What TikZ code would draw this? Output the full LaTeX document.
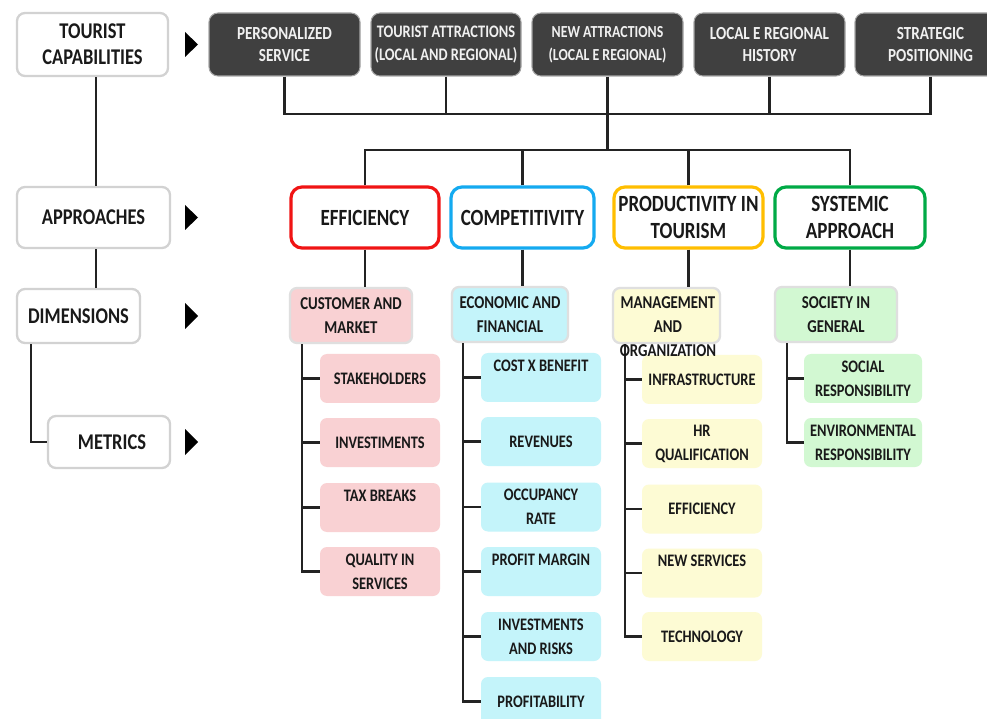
\documentclass[tikz,border=0pt]{standalone}
\usepackage{fontspec}
\setmainfont{Carlito}[FakeStretch=0.82]
\definecolor{darkbox}{RGB}{64,64,64}
\definecolor{pinkf}{RGB}{249,209,211}
\definecolor{cyanf}{RGB}{196,244,250}
\definecolor{yellowf}{RGB}{253,251,212}
\definecolor{greenf}{RGB}{210,248,210}
\definecolor{effred}{RGB}{240,20,20}
\definecolor{compblue}{RGB}{20,170,240}
\definecolor{prodorange}{RGB}{255,190,0}
\definecolor{sysgreen}{RGB}{0,170,70}
\definecolor{txt}{RGB}{25,25,25}
\definecolor{conn}{RGB}{35,35,35}
\tikzset{
  sz/.style 2 args={minimum width=#1*0.02cm, minimum height=#2*0.02cm},
  base/.style={inner sep=0pt, align=center, text=txt},
  leftbox/.style={base, rounded corners=0.16cm, draw=gray!35, line width=1.3pt, fill=white,
     font=\fontsize{12.8}{14.8}\selectfont\bfseries},
  darkb/.style={base, rounded corners=0.18cm, fill=darkbox, draw=gray!70, line width=0.6pt, text=white!94!black,
     font=\fontsize{10.5}{13}\selectfont\bfseries},
  appb/.style={base, rounded corners=0.22cm, fill=white, line width=1.8pt,
     font=\fontsize{13.2}{15.4}\selectfont\bfseries},
  dimb/.style={base, rounded corners=0.14cm, draw=gray!25, line width=1.3pt,
     font=\fontsize{10.3}{13.7}\selectfont\bfseries},
  metb/.style={base, rounded corners=0.14cm, sz={120}{49},
     font=\fontsize{10}{13.7}\selectfont\bfseries},
  conn/.style={draw=conn, line width=1.5pt},
  tri/.style={fill=black},
}
\begin{document}
\begin{tikzpicture}[x=0.02cm,y=-0.02cm]
\useasboundingbox (0,0) rectangle (987,719);
\clip (0,0) rectangle (987,719);
\fill[white] (0,0) rectangle (987,719);

% left column
\node[leftbox, sz={151}{63}] (tc) at (92.5,44.5) {TOURIST\\CAPABILITIES};
\node[leftbox, sz={153}{61}] (app) at (93.5,217.5) {APPROACHES};
\node[leftbox, sz={123}{54}] (dim) at (78.5,316) {DIMENSIONS};
\node[leftbox, sz={122}{52}] (met) at (109,442) {\hspace*{0.12cm}METRICS};

% triangles
\fill[tri] (185,32) -- (198,44.5) -- (185,57) -- cycle;
\fill[tri] (185,205) -- (198,217.5) -- (185,230) -- cycle;
\fill[tri] (185,303) -- (198,316) -- (185,329) -- cycle;
\fill[tri] (185,429) -- (198,442) -- (185,455) -- cycle;

% top dark boxes
\node[darkb, sz={151}{63}] (ps) at (284.5,44.5) {PERSONALIZED\\SERVICE};
\node[darkb, sz={150}{63}, font=\fontsize{10}{13}\selectfont\bfseries] (ta) at (446,44.5) {TOURIST ATTRACTIONS\\(LOCAL AND REGIONAL)};
\node[darkb, sz={151}{63}, font=\fontsize{9.6}{13}\selectfont\bfseries] (na) at (607.5,44.5) {NEW ATTRACTIONS\\(LOCAL E REGIONAL)};
\node[darkb, sz={151}{63}] (hist) at (769.5,44.5) {LOCAL E REGIONAL\\HISTORY};
\node[darkb, sz={151}{63}] (sp) at (930.5,44.5) {STRATEGIC\\POSITIONING};

% approaches
\node[appb, draw=effred, sz={148}{61}] (eff) at (365,217.5) {EFFICIENCY};
\node[appb, draw=compblue, sz={143}{61}] (comp) at (522.5,217.5) {COMPETITIVITY};
\node[appb, draw=prodorange, sz={149}{61}] (prod) at (688.5,217.5) {PRODUCTIVITY IN\\TOURISM};
\node[appb, draw=sysgreen, sz={150}{61}] (sys) at (850,217.5) {SYSTEMIC\\APPROACH};

% dimensions
\node[dimb, fill=pinkf, sz={122}{55}] (dimE) at (351,315.5) {CUSTOMER AND\\MARKET};
\node[dimb, fill=cyanf, sz={116}{55}] (dimC) at (510,314.5) {ECONOMIC AND\\FINANCIAL};
\node[dimb, fill=yellowf, sz={107}{55}] (dimP) at (666.5,315.5) {};
\node[dimb, fill=greenf, sz={122}{55}] (dimS) at (836,314.5) {SOCIETY IN\\GENERAL};

% metrics efficiency
\node[metb, fill=pinkf] (e1) at (380,378.5) {STAKEHOLDERS};
\node[metb, fill=pinkf] (e2) at (380,442.5) {INVESTIMENTS};
\node[metb, fill=pinkf] (e3) at (380,507.5) {TAX BREAKS\\\mbox{}};
\node[metb, fill=pinkf] (e4) at (380,571.5) {QUALITY IN\\SERVICES};

% metrics competitivity
\node[metb, fill=cyanf] (c1) at (541,377.5) {COST X BENEFIT\\\mbox{}};
\node[metb, fill=cyanf] (c2) at (541,441.5) {REVENUES};
\node[metb, fill=cyanf] (c3) at (541,507) {OCCUPANCY\\RATE};
\node[metb, fill=cyanf] (c4) at (541,571.5) {PROFIT MARGIN\\\mbox{}};
\node[metb, fill=cyanf] (c5) at (541,636.5) {INVESTMENTS\\AND RISKS};
\node[metb, fill=cyanf] (c6) at (541,701.5) {PROFITABILITY};

% metrics productivity
\node[metb, fill=yellowf] (p1) at (702,379.5) {INFRASTRUCTURE};
\node[metb, fill=yellowf] (p2) at (702,443.5) {HR\\QUALIFICATION};
\node[metb, fill=yellowf] (p3) at (702,509) {EFFICIENCY};
\node[metb, fill=yellowf] (p4) at (702,573) {NEW SERVICES\\\mbox{}};
\node[metb, fill=yellowf] (p5) at (702,636.5) {TECHNOLOGY};

% metrics systemic
\node[metb, fill=greenf, sz={118}{49}] (s1) at (863,378.5) {SOCIAL\\RESPONSIBILITY};
\node[metb, fill=greenf, sz={118}{49}] (s2) at (863,442.5) {ENVIRONMENTAL\\RESPONSIBILITY};

% connectors: left column
\draw[conn] ([xshift=3.5*0.02cm]tc.south) -- ([xshift=3.5*0.02cm]tc.south |- app.north);
\draw[conn] ([xshift=2.5*0.02cm]app.south) -- ([xshift=2.5*0.02cm]app.south |- dim.north);
\draw[conn] ([xshift=15*0.02cm]dim.south west) |- (met.west);

% connectors: top tree
\coordinate (bus1) at (607,114);
\coordinate (bus2) at (607,150);
\draw[conn] (ps.south) |- (bus1);
\draw[conn] (sp.south) |- (bus1);
\draw[conn] (ta.south) -- (ta.south |- bus1);
\draw[conn] (hist.south) -- (hist.south |- bus1);
\draw[conn] (na.south) -- (na.south |- bus2);
\draw[conn] (eff.north) |- (bus2);
\draw[conn] (sys.north) |- (bus2);
\draw[conn] (comp.north) -- (comp.north |- bus2);
\draw[conn] (prod.north) -- (prod.north |- bus2);

% approaches to dimensions
\draw[conn] (eff.south) -- (eff.south |- dimE.north);
\draw[conn] (comp.south) -- (comp.south |- dimC.north);
\draw[conn] (prod.south) -- (prod.south |- dimP.north);
\draw[conn] (sys.south) -- (sys.south |- dimS.north);

% spines
\coordinate (spE) at ([xshift=13*0.02cm]dimE.south west);
\coordinate (spC) at ([xshift=12*0.02cm]dimC.south west);
\coordinate (spP) at ([xshift=13*0.02cm]dimP.south west);
\coordinate (spS) at ([xshift=13*0.02cm]dimS.south west);
\draw[conn] (spE) |- (e4.west);
\foreach \m in {e1,e2,e3} \draw[conn] (spE |- \m.west) -- (\m.west);
\draw[conn] (spC) |- (c6.west);
\foreach \m in {c1,c2,c3,c4,c5} \draw[conn] (spC |- \m.west) -- (\m.west);
\draw[conn] (spP) |- (p5.west);
\foreach \m in {p1,p2,p3,p4} \draw[conn] (spP |- \m.west) -- (\m.west);
\draw[conn] (spS) |- (s2.west);
\draw[conn] (spS |- s1.west) -- (s1.west);

% overflowing text of the management dimension
\node[base, font=\fontsize{10.3}{13.7}\selectfont\bfseries] (dimPtext) at (668,327) {MANAGEMENT\\AND\\ORGANIZATION};
\end{tikzpicture}
\end{document}
